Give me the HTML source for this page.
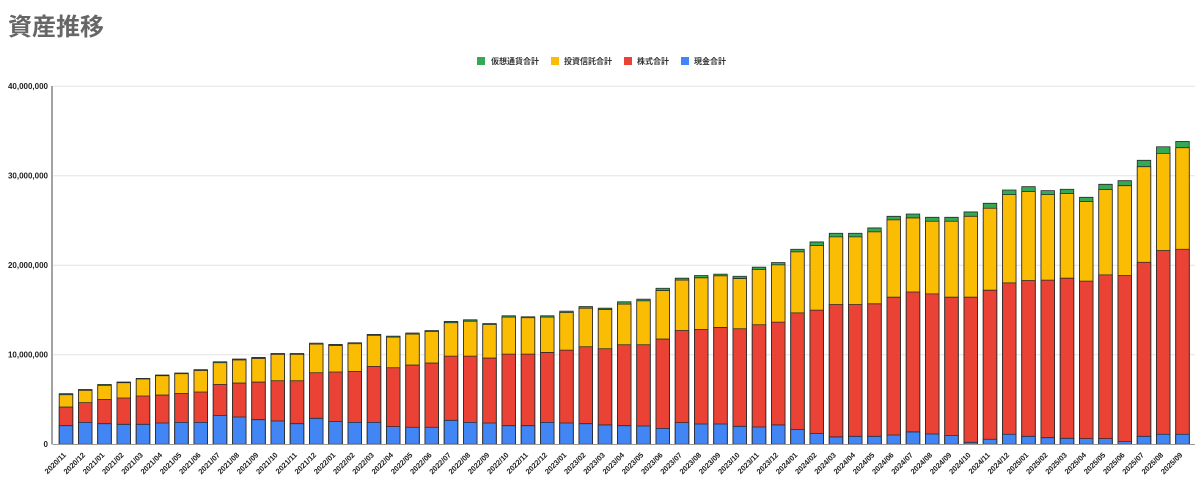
<!DOCTYPE html>
<html><head><meta charset="utf-8">
<style>
html,body{margin:0;padding:0;background:#fff;}
body{width:1200px;height:484px;overflow:hidden;}
svg{display:block;}
.bars rect{vector-effect:non-scaling-stroke;stroke:#2a2a2a;stroke-width:0.8;}
.g{fill:#34a853}.y{fill:#fbbc04}.r{fill:#ea4335}.b{fill:#4285f4}
.xl text{font:bold 7.5px "Liberation Sans",sans-serif;fill:#222;text-anchor:end;}
.yl text{font:bold 8px "Liberation Sans",sans-serif;fill:#222;text-anchor:end;}
.lg text{font:bold 8px "Liberation Sans","Noto Sans CJK JP",sans-serif;fill:#333;}
</style></head><body>
<svg width="1200" height="484" viewBox="0 0 1200 484" xmlns="http://www.w3.org/2000/svg">
<rect width="1200" height="484" fill="#fff"/>
<text x="8" y="35" style="font:bold 24px 'Liberation Sans','Noto Sans CJK JP',sans-serif;fill:#666">資産推移</text>
<g class="lg">
<rect x="477" y="57" width="8" height="8" fill="#34a853"/><text x="491" y="64">仮想通貨合計</text>
<rect x="551" y="57" width="8" height="8" fill="#fbbc04"/><text x="564" y="64">投資信託合計</text>
<rect x="624" y="57" width="8" height="8" fill="#ea4335"/><text x="637" y="64">株式合計</text>
<rect x="681" y="57" width="8" height="8" fill="#4285f4"/><text x="694" y="64">現金合計</text>
</g>
<g stroke="#e3e3e3" stroke-width="1">
<line x1="53" y1="86.3" x2="1195" y2="86.3"/>
<line x1="53" y1="175.8" x2="1195" y2="175.8"/>
<line x1="53" y1="265.3" x2="1195" y2="265.3"/>
<line x1="53" y1="354.8" x2="1195" y2="354.8"/>
</g>
<line x1="52" y1="86" x2="52" y2="444.5" stroke="#444" stroke-width="1"/>
<g class="yl">
<text x="48" y="89">40,000,000</text>
<text x="48" y="178.5">30,000,000</text>
<text x="48" y="268">20,000,000</text>
<text x="48" y="357.5">10,000,000</text>
<text x="48" y="447">0</text>
</g>
<g class="bars" transform="translate(59.25,444.3) scale(19.25,-8.955)">
<rect x="0" width=".7013" height="5.65" class="g"/><rect x="0" width=".7013" height="5.54" class="y"/><rect x="0" width=".7013" height="4.16" class="r"/><rect x="0" width=".7013" height="2.08" class="b"/>
<rect x="1" width=".7013" height="6.13" class="g"/><rect x="1" width=".7013" height="6.02" class="y"/><rect x="1" width=".7013" height="4.65" class="r"/><rect x="1" width=".7013" height="2.45" class="b"/>
<rect x="2" width=".7013" height="6.69" class="g"/><rect x="2" width=".7013" height="6.58" class="y"/><rect x="2" width=".7013" height="5.02" class="r"/><rect x="2" width=".7013" height="2.30" class="b"/>
<rect x="3" width=".7013" height="6.95" class="g"/><rect x="3" width=".7013" height="6.88" class="y"/><rect x="3" width=".7013" height="5.17" class="r"/><rect x="3" width=".7013" height="2.23" class="b"/>
<rect x="4" width=".7013" height="7.36" class="g"/><rect x="4" width=".7013" height="7.29" class="y"/><rect x="4" width=".7013" height="5.39" class="r"/><rect x="4" width=".7013" height="2.23" class="b"/>
<rect x="5" width=".7013" height="7.73" class="g"/><rect x="5" width=".7013" height="7.66" class="y"/><rect x="5" width=".7013" height="5.50" class="r"/><rect x="5" width=".7013" height="2.38" class="b"/>
<rect x="6" width=".7013" height="7.96" class="g"/><rect x="6" width=".7013" height="7.88" class="y"/><rect x="6" width=".7013" height="5.69" class="r"/><rect x="6" width=".7013" height="2.45" class="b"/>
<rect x="7" width=".7013" height="8.33" class="g"/><rect x="7" width=".7013" height="8.25" class="y"/><rect x="7" width=".7013" height="5.84" class="r"/><rect x="7" width=".7013" height="2.45" class="b"/>
<rect x="8" width=".7013" height="9.22" class="g"/><rect x="8" width=".7013" height="9.11" class="y"/><rect x="8" width=".7013" height="6.69" class="r"/><rect x="8" width=".7013" height="3.23" class="b"/>
<rect x="9" width=".7013" height="9.52" class="g"/><rect x="9" width=".7013" height="9.41" class="y"/><rect x="9" width=".7013" height="6.84" class="r"/><rect x="9" width=".7013" height="3.05" class="b"/>
<rect x="10" width=".7013" height="9.70" class="g"/><rect x="10" width=".7013" height="9.59" class="y"/><rect x="10" width=".7013" height="6.95" class="r"/><rect x="10" width=".7013" height="2.75" class="b"/>
<rect x="11" width=".7013" height="10.15" class="g"/><rect x="11" width=".7013" height="10.04" class="y"/><rect x="11" width=".7013" height="7.10" class="r"/><rect x="11" width=".7013" height="2.60" class="b"/>
<rect x="12" width=".7013" height="10.15" class="g"/><rect x="12" width=".7013" height="10.04" class="y"/><rect x="12" width=".7013" height="7.10" class="r"/><rect x="12" width=".7013" height="2.30" class="b"/>
<rect x="13" width=".7013" height="11.30" class="g"/><rect x="13" width=".7013" height="11.19" class="y"/><rect x="13" width=".7013" height="7.99" class="r"/><rect x="13" width=".7013" height="2.90" class="b"/>
<rect x="14" width=".7013" height="11.15" class="g"/><rect x="14" width=".7013" height="11.04" class="y"/><rect x="14" width=".7013" height="8.07" class="r"/><rect x="14" width=".7013" height="2.53" class="b"/>
<rect x="15" width=".7013" height="11.34" class="g"/><rect x="15" width=".7013" height="11.23" class="y"/><rect x="15" width=".7013" height="8.14" class="r"/><rect x="15" width=".7013" height="2.45" class="b"/>
<rect x="16" width=".7013" height="12.27" class="g"/><rect x="16" width=".7013" height="12.16" class="y"/><rect x="16" width=".7013" height="8.70" class="r"/><rect x="16" width=".7013" height="2.45" class="b"/>
<rect x="17" width=".7013" height="12.08" class="g"/><rect x="17" width=".7013" height="11.97" class="y"/><rect x="17" width=".7013" height="8.55" class="r"/><rect x="17" width=".7013" height="1.97" class="b"/>
<rect x="18" width=".7013" height="12.42" class="g"/><rect x="18" width=".7013" height="12.30" class="y"/><rect x="18" width=".7013" height="8.85" class="r"/><rect x="18" width=".7013" height="1.90" class="b"/>
<rect x="19" width=".7013" height="12.71" class="g"/><rect x="19" width=".7013" height="12.60" class="y"/><rect x="19" width=".7013" height="9.07" class="r"/><rect x="19" width=".7013" height="1.90" class="b"/>
<rect x="20" width=".7013" height="13.72" class="g"/><rect x="20" width=".7013" height="13.57" class="y"/><rect x="20" width=".7013" height="9.85" class="r"/><rect x="20" width=".7013" height="2.68" class="b"/>
<rect x="21" width=".7013" height="13.90" class="g"/><rect x="21" width=".7013" height="13.75" class="y"/><rect x="21" width=".7013" height="9.85" class="r"/><rect x="21" width=".7013" height="2.45" class="b"/>
<rect x="22" width=".7013" height="13.49" class="g"/><rect x="22" width=".7013" height="13.38" class="y"/><rect x="22" width=".7013" height="9.63" class="r"/><rect x="22" width=".7013" height="2.38" class="b"/>
<rect x="23" width=".7013" height="14.35" class="g"/><rect x="23" width=".7013" height="14.20" class="y"/><rect x="23" width=".7013" height="10.07" class="r"/><rect x="23" width=".7013" height="2.08" class="b"/>
<rect x="24" width=".7013" height="14.24" class="g"/><rect x="24" width=".7013" height="14.13" class="y"/><rect x="24" width=".7013" height="10.07" class="r"/><rect x="24" width=".7013" height="2.08" class="b"/>
<rect x="25" width=".7013" height="14.35" class="g"/><rect x="25" width=".7013" height="14.20" class="y"/><rect x="25" width=".7013" height="10.26" class="r"/><rect x="25" width=".7013" height="2.45" class="b"/>
<rect x="26" width=".7013" height="14.87" class="g"/><rect x="26" width=".7013" height="14.72" class="y"/><rect x="26" width=".7013" height="10.52" class="r"/><rect x="26" width=".7013" height="2.38" class="b"/>
<rect x="27" width=".7013" height="15.39" class="g"/><rect x="27" width=".7013" height="15.20" class="y"/><rect x="27" width=".7013" height="10.89" class="r"/><rect x="27" width=".7013" height="2.30" class="b"/>
<rect x="28" width=".7013" height="15.20" class="g"/><rect x="28" width=".7013" height="15.06" class="y"/><rect x="28" width=".7013" height="10.67" class="r"/><rect x="28" width=".7013" height="2.16" class="b"/>
<rect x="29" width=".7013" height="15.91" class="g"/><rect x="29" width=".7013" height="15.65" class="y"/><rect x="29" width=".7013" height="11.12" class="r"/><rect x="29" width=".7013" height="2.08" class="b"/>
<rect x="30" width=".7013" height="16.21" class="g"/><rect x="30" width=".7013" height="16.02" class="y"/><rect x="30" width=".7013" height="11.12" class="r"/><rect x="30" width=".7013" height="2.04" class="b"/>
<rect x="31" width=".7013" height="17.43" class="g"/><rect x="31" width=".7013" height="17.17" class="y"/><rect x="31" width=".7013" height="11.75" class="r"/><rect x="31" width=".7013" height="1.78" class="b"/>
<rect x="32" width=".7013" height="18.55" class="g"/><rect x="32" width=".7013" height="18.33" class="y"/><rect x="32" width=".7013" height="12.71" class="r"/><rect x="32" width=".7013" height="2.42" class="b"/>
<rect x="33" width=".7013" height="18.85" class="g"/><rect x="33" width=".7013" height="18.59" class="y"/><rect x="33" width=".7013" height="12.83" class="r"/><rect x="33" width=".7013" height="2.27" class="b"/>
<rect x="34" width=".7013" height="19.00" class="g"/><rect x="34" width=".7013" height="18.81" class="y"/><rect x="34" width=".7013" height="13.05" class="r"/><rect x="34" width=".7013" height="2.27" class="b"/>
<rect x="35" width=".7013" height="18.77" class="g"/><rect x="35" width=".7013" height="18.51" class="y"/><rect x="35" width=".7013" height="12.90" class="r"/><rect x="35" width=".7013" height="2.01" class="b"/>
<rect x="36" width=".7013" height="19.78" class="g"/><rect x="36" width=".7013" height="19.52" class="y"/><rect x="36" width=".7013" height="13.35" class="r"/><rect x="36" width=".7013" height="1.93" class="b"/>
<rect x="37" width=".7013" height="20.30" class="g"/><rect x="37" width=".7013" height="20.04" class="y"/><rect x="37" width=".7013" height="13.64" class="r"/><rect x="37" width=".7013" height="2.16" class="b"/>
<rect x="38" width=".7013" height="21.78" class="g"/><rect x="38" width=".7013" height="21.49" class="y"/><rect x="38" width=".7013" height="14.68" class="r"/><rect x="38" width=".7013" height="1.64" class="b"/>
<rect x="39" width=".7013" height="22.60" class="g"/><rect x="39" width=".7013" height="22.19" class="y"/><rect x="39" width=".7013" height="14.98" class="r"/><rect x="39" width=".7013" height="1.19" class="b"/>
<rect x="40" width=".7013" height="23.57" class="g"/><rect x="40" width=".7013" height="23.16" class="y"/><rect x="40" width=".7013" height="15.61" class="r"/><rect x="40" width=".7013" height="0.82" class="b"/>
<rect x="41" width=".7013" height="23.57" class="g"/><rect x="41" width=".7013" height="23.16" class="y"/><rect x="41" width=".7013" height="15.61" class="r"/><rect x="41" width=".7013" height="0.89" class="b"/>
<rect x="42" width=".7013" height="24.16" class="g"/><rect x="42" width=".7013" height="23.72" class="y"/><rect x="42" width=".7013" height="15.69" class="r"/><rect x="42" width=".7013" height="0.89" class="b"/>
<rect x="43" width=".7013" height="25.46" class="g"/><rect x="43" width=".7013" height="25.06" class="y"/><rect x="43" width=".7013" height="16.43" class="r"/><rect x="43" width=".7013" height="1.04" class="b"/>
<rect x="44" width=".7013" height="25.72" class="g"/><rect x="44" width=".7013" height="25.28" class="y"/><rect x="44" width=".7013" height="17.01" class="r"/><rect x="44" width=".7013" height="1.38" class="b"/>
<rect x="45" width=".7013" height="25.35" class="g"/><rect x="45" width=".7013" height="24.91" class="y"/><rect x="45" width=".7013" height="16.80" class="r"/><rect x="45" width=".7013" height="1.15" class="b"/>
<rect x="46" width=".7013" height="25.35" class="g"/><rect x="46" width=".7013" height="24.91" class="y"/><rect x="46" width=".7013" height="16.43" class="r"/><rect x="46" width=".7013" height="1.00" class="b"/>
<rect x="47" width=".7013" height="25.95" class="g"/><rect x="47" width=".7013" height="25.46" class="y"/><rect x="47" width=".7013" height="16.43" class="r"/><rect x="47" width=".7013" height="0.22" class="b"/>
<rect x="48" width=".7013" height="26.91" class="g"/><rect x="48" width=".7013" height="26.36" class="y"/><rect x="48" width=".7013" height="17.21" class="r"/><rect x="48" width=".7013" height="0.56" class="b"/>
<rect x="49" width=".7013" height="28.40" class="g"/><rect x="49" width=".7013" height="27.88" class="y"/><rect x="49" width=".7013" height="18.03" class="r"/><rect x="49" width=".7013" height="1.12" class="b"/>
<rect x="50" width=".7013" height="28.77" class="g"/><rect x="50" width=".7013" height="28.22" class="y"/><rect x="50" width=".7013" height="18.29" class="r"/><rect x="50" width=".7013" height="0.89" class="b"/>
<rect x="51" width=".7013" height="28.33" class="g"/><rect x="51" width=".7013" height="27.88" class="y"/><rect x="51" width=".7013" height="18.33" class="r"/><rect x="51" width=".7013" height="0.74" class="b"/>
<rect x="52" width=".7013" height="28.48" class="g"/><rect x="52" width=".7013" height="27.99" class="y"/><rect x="52" width=".7013" height="18.55" class="r"/><rect x="52" width=".7013" height="0.67" class="b"/>
<rect x="53" width=".7013" height="27.58" class="g"/><rect x="53" width=".7013" height="27.10" class="y"/><rect x="53" width=".7013" height="18.22" class="r"/><rect x="53" width=".7013" height="0.63" class="b"/>
<rect x="54" width=".7013" height="29.03" class="g"/><rect x="54" width=".7013" height="28.44" class="y"/><rect x="54" width=".7013" height="18.92" class="r"/><rect x="54" width=".7013" height="0.63" class="b"/>
<rect x="55" width=".7013" height="29.44" class="g"/><rect x="55" width=".7013" height="28.88" class="y"/><rect x="55" width=".7013" height="18.85" class="r"/><rect x="55" width=".7013" height="0.33" class="b"/>
<rect x="56" width=".7013" height="31.71" class="g"/><rect x="56" width=".7013" height="31.00" class="y"/><rect x="56" width=".7013" height="20.33" class="r"/><rect x="56" width=".7013" height="0.89" class="b"/>
<rect x="57" width=".7013" height="33.23" class="g"/><rect x="57" width=".7013" height="32.49" class="y"/><rect x="57" width=".7013" height="21.64" class="r"/><rect x="57" width=".7013" height="1.12" class="b"/>
<rect x="58" width=".7013" height="33.83" class="g"/><rect x="58" width=".7013" height="33.12" class="y"/><rect x="58" width=".7013" height="21.78" class="r"/><rect x="58" width=".7013" height="1.12" class="b"/>
</g>
<line x1="53" y1="444.5" x2="1195" y2="444.5" stroke="#9a9a9a" stroke-width="1"/>
<g class="xl">
<text transform="translate(66.5,455.5) rotate(-45)">2020/11</text>
<text transform="translate(85.75,455.5) rotate(-45)">2020/12</text>
<text transform="translate(105,455.5) rotate(-45)">2021/01</text>
<text transform="translate(124.25,455.5) rotate(-45)">2021/02</text>
<text transform="translate(143.5,455.5) rotate(-45)">2021/03</text>
<text transform="translate(162.75,455.5) rotate(-45)">2021/04</text>
<text transform="translate(182,455.5) rotate(-45)">2021/05</text>
<text transform="translate(201.25,455.5) rotate(-45)">2021/06</text>
<text transform="translate(220.5,455.5) rotate(-45)">2021/07</text>
<text transform="translate(239.75,455.5) rotate(-45)">2021/08</text>
<text transform="translate(259,455.5) rotate(-45)">2021/09</text>
<text transform="translate(278.25,455.5) rotate(-45)">2021/10</text>
<text transform="translate(297.5,455.5) rotate(-45)">2021/11</text>
<text transform="translate(316.75,455.5) rotate(-45)">2021/12</text>
<text transform="translate(336,455.5) rotate(-45)">2022/01</text>
<text transform="translate(355.25,455.5) rotate(-45)">2022/02</text>
<text transform="translate(374.5,455.5) rotate(-45)">2022/03</text>
<text transform="translate(393.75,455.5) rotate(-45)">2022/04</text>
<text transform="translate(413,455.5) rotate(-45)">2022/05</text>
<text transform="translate(432.25,455.5) rotate(-45)">2022/06</text>
<text transform="translate(451.5,455.5) rotate(-45)">2022/07</text>
<text transform="translate(470.75,455.5) rotate(-45)">2022/08</text>
<text transform="translate(490,455.5) rotate(-45)">2022/09</text>
<text transform="translate(509.25,455.5) rotate(-45)">2022/10</text>
<text transform="translate(528.5,455.5) rotate(-45)">2022/11</text>
<text transform="translate(547.75,455.5) rotate(-45)">2022/12</text>
<text transform="translate(567,455.5) rotate(-45)">2023/01</text>
<text transform="translate(586.25,455.5) rotate(-45)">2023/02</text>
<text transform="translate(605.5,455.5) rotate(-45)">2023/03</text>
<text transform="translate(624.75,455.5) rotate(-45)">2023/04</text>
<text transform="translate(644,455.5) rotate(-45)">2023/05</text>
<text transform="translate(663.25,455.5) rotate(-45)">2023/06</text>
<text transform="translate(682.5,455.5) rotate(-45)">2023/07</text>
<text transform="translate(701.75,455.5) rotate(-45)">2023/08</text>
<text transform="translate(721,455.5) rotate(-45)">2023/09</text>
<text transform="translate(740.25,455.5) rotate(-45)">2023/10</text>
<text transform="translate(759.5,455.5) rotate(-45)">2023/11</text>
<text transform="translate(778.75,455.5) rotate(-45)">2023/12</text>
<text transform="translate(798,455.5) rotate(-45)">2024/01</text>
<text transform="translate(817.25,455.5) rotate(-45)">2024/02</text>
<text transform="translate(836.5,455.5) rotate(-45)">2024/03</text>
<text transform="translate(855.75,455.5) rotate(-45)">2024/04</text>
<text transform="translate(875,455.5) rotate(-45)">2024/05</text>
<text transform="translate(894.25,455.5) rotate(-45)">2024/06</text>
<text transform="translate(913.5,455.5) rotate(-45)">2024/07</text>
<text transform="translate(932.75,455.5) rotate(-45)">2024/08</text>
<text transform="translate(952,455.5) rotate(-45)">2024/09</text>
<text transform="translate(971.25,455.5) rotate(-45)">2024/10</text>
<text transform="translate(990.5,455.5) rotate(-45)">2024/11</text>
<text transform="translate(1009.75,455.5) rotate(-45)">2024/12</text>
<text transform="translate(1029,455.5) rotate(-45)">2025/01</text>
<text transform="translate(1048.25,455.5) rotate(-45)">2025/02</text>
<text transform="translate(1067.5,455.5) rotate(-45)">2025/03</text>
<text transform="translate(1086.75,455.5) rotate(-45)">2025/04</text>
<text transform="translate(1106,455.5) rotate(-45)">2025/05</text>
<text transform="translate(1125.25,455.5) rotate(-45)">2025/06</text>
<text transform="translate(1144.5,455.5) rotate(-45)">2025/07</text>
<text transform="translate(1163.75,455.5) rotate(-45)">2025/08</text>
<text transform="translate(1183,455.5) rotate(-45)">2025/09</text>
</g>
</svg>
</body></html>
